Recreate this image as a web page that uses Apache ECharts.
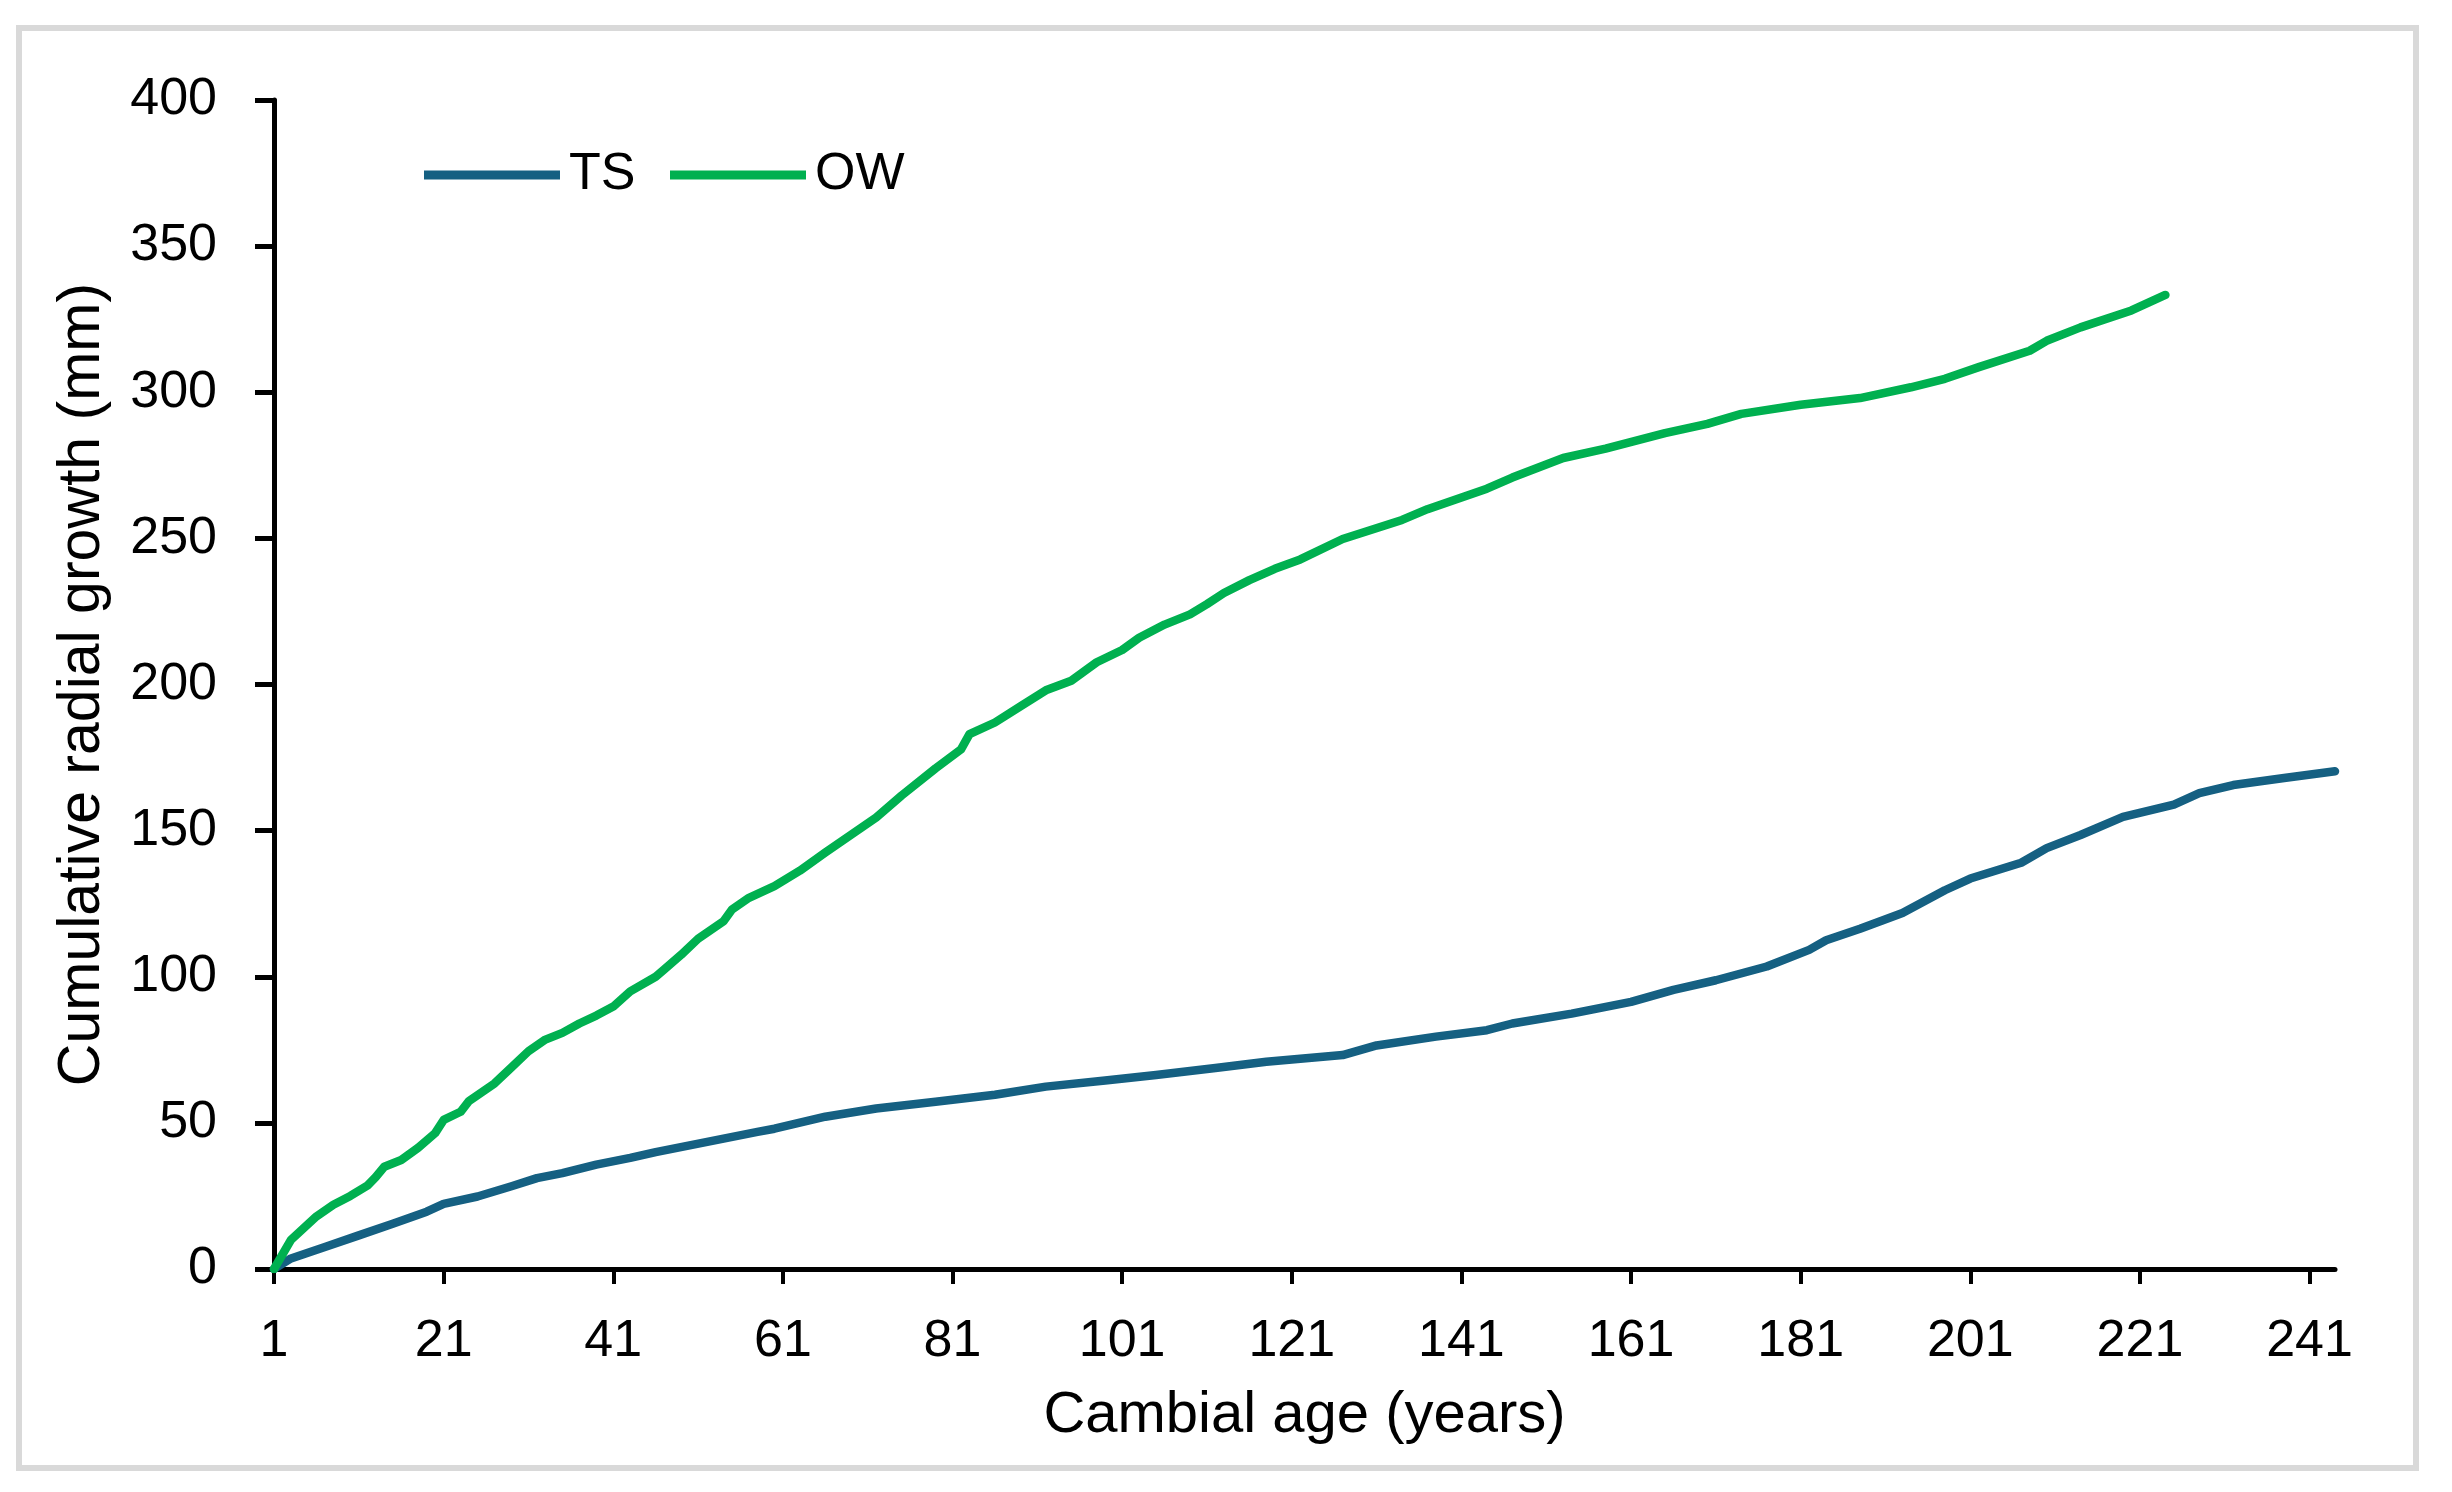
<!DOCTYPE html>
<html>
<head>
<meta charset="utf-8">
<title>Cumulative radial growth</title>
<script src="https://cdn.jsdelivr.net/npm/echarts@6/dist/echarts.min.js"></script>
<style>
  html, body { margin: 0; padding: 0; background: #fff; }
  #chart { width: 2452px; height: 1492px; }
</style>
</head>
<body>
<div id="chart"></div>
<script>
  // x categories: cambial age 1..244 years
  var ageCategories = []
  for (var a = 1; a <= 244; a++) ageCategories.push(String(a))
  var xTickLabels = ['1', '21', '41', '61', '81', '101', '121', '141', '161', '181', '201', '221', '241']

  // TS
  var tsAge = [1, 3, 7, 11, 15, 19, 21, 25, 29, 32, 35, 39, 43, 46, 50, 54, 58, 60, 66, 72, 79, 86, 92, 99,
    105, 112, 118, 125, 127, 131, 138, 144, 147, 154, 161, 166, 171, 177, 182, 184, 188, 193, 198, 201,
    207, 210, 214, 219, 225, 228, 232, 238, 244]
  var tsGrowth = [0, 3.6, 7.5, 11.5, 15.5, 19.6, 22.3, 24.8, 28.3, 31.1, 32.8, 35.7, 38, 40, 42.3, 44.6, 46.9, 48, 52.1, 54.9, 57.2, 59.6, 62.4, 64.5,
    66.4, 68.8, 70.9, 72.7, 73.2, 76.5, 79.5, 81.7, 84, 87.4, 91.4, 95.5, 98.8, 103.5, 109.2, 112.5, 116.4, 121.8, 129.6, 133.6,
    139, 144, 148.5, 154.7, 158.9, 162.8, 165.6, 168, 170.3]

  // OW
  var owAge = [1, 3, 6, 8, 10, 12, 13, 14, 16, 18, 20, 21, 23, 24, 27, 29, 31, 33, 35, 37, 39, 41, 43, 46, 47, 49, 51, 54, 55, 57,
    60, 63, 66, 69, 72, 75, 79, 82, 83, 86, 89, 92, 95, 98, 101, 103, 106, 109, 111, 113, 116, 119, 122,
    127, 134, 137, 144, 147, 153, 158, 165, 170, 174, 181, 188, 194, 198, 202, 208, 210, 214, 220, 224]
  var owGrowth = [0, 10, 18, 22, 25, 28.5, 31.5, 35, 37.3, 41.5, 46.5, 51, 53.8, 57.5, 63.5, 69, 74.5, 78.5, 80.8, 84, 86.7, 89.8, 95, 100, 102.5, 107.5, 113, 119, 123, 127,
    131, 136.3, 142.5, 148.5, 154.5, 162, 171.3, 177.8, 183, 187, 192.5, 198, 201.3, 207.6, 211.8, 216, 220.5, 224, 227.5, 231.3, 235.7, 239.6, 242.8,
    249.8, 256.3, 260, 267, 270.8, 277.5, 280.7, 286, 289.2, 292.6, 295.7, 298, 301.7, 304.6, 308.6, 314.2, 317.6, 322.2, 328, 333.3]

  var FONT = '"Liberation Sans", Arial, sans-serif'
  var TS_COLOR = '#156082'
  var OW_COLOR = '#00b050'

  function pairs (ages, vals) {
    return ages.map(function (x, i) { return [String(x), vals[i]] })
  }
  function onTick (index, value) {
    return xTickLabels.indexOf(value) >= 0
  }
  function legendCfg (name, left) {
    return {
      data: [name],
      left: left,
      top: 144,
      icon: 'rect',
      itemWidth: 136,
      itemHeight: 9,
      selectedMode: false,
      textStyle: { fontSize: 52, fontFamily: FONT, color: '#000', padding: [0, 0, 0, 4] }
    }
  }

  var chart = echarts.init(document.getElementById('chart'))
  var option = {
    backgroundColor: '#fff',
    animation: false,
    graphic: [{
      type: 'rect',
      silent: true,
      shape: { x: 19, y: 28, width: 2397, height: 1440 },
      style: { fill: 'none', stroke: '#d9d9d9', lineWidth: 6 }
    }],
    legend: [legendCfg('TS', 419), legendCfg('OW', 665)],
    grid: { left: 274, top: 100, right: 117, bottom: 223, outerBoundsMode: 'none' },
    xAxis: {
      type: 'category',
      data: ageCategories,
      boundaryGap: false,
      name: 'Cambial age (years)',
      nameLocation: 'middle',
      nameGap: 118,
      nameTextStyle: { fontSize: 58, fontFamily: FONT, color: '#000' },
      axisLine: { lineStyle: { color: '#000', width: 5 } },
      axisTick: { interval: onTick, length: 15, lineStyle: { color: '#000', width: 4 } },
      axisLabel: { interval: onTick, margin: 47, fontSize: 52, fontFamily: FONT, color: '#000' },
      splitLine: { show: false }
    },
    yAxis: {
      type: 'value',
      min: 0,
      max: 400,
      interval: 50,
      name: 'Cumulative radial growth (mm)',
      nameLocation: 'middle',
      nameGap: 162,
      nameTextStyle: { fontSize: 59, fontFamily: FONT, color: '#000' },
      axisLine: { show: true, lineStyle: { color: '#000', width: 5 } },
      axisTick: { show: true, length: 19, lineStyle: { color: '#000', width: 5 } },
      axisLabel: { margin: 57, fontSize: 52, fontFamily: FONT, color: '#000' },
      splitLine: { show: false }
    },
    series: [
      {
        name: 'TS',
        type: 'line',
        symbol: 'none',
        color: TS_COLOR,
        lineStyle: { width: 8.5, color: TS_COLOR, cap: 'round', join: 'round' },
        data: pairs(tsAge, tsGrowth)
      },
      {
        name: 'OW',
        type: 'line',
        symbol: 'none',
        color: OW_COLOR,
        lineStyle: { width: 8.5, color: OW_COLOR, cap: 'round', join: 'round' },
        data: pairs(owAge, owGrowth)
      }
    ]
  }
  chart.setOption(option)
</script>
</body>
</html>
